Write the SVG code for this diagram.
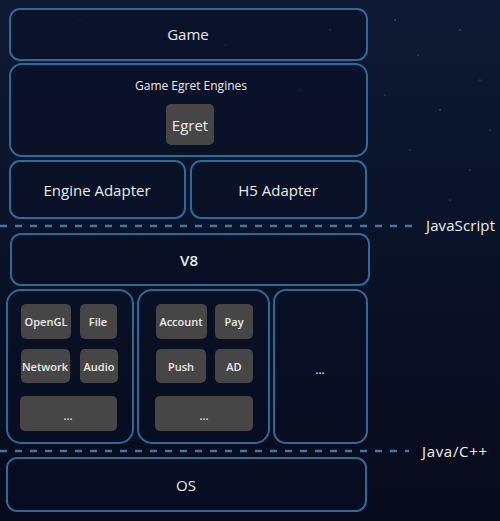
<svg xmlns="http://www.w3.org/2000/svg" width="500" height="521" viewBox="0 0 500 521">
<defs>
<linearGradient id="bg" x1="0" y1="0" x2="0" y2="1">
<stop offset="0" stop-color="#0e1a33"/>
<stop offset="0.5" stop-color="#0a1228"/>
<stop offset="1" stop-color="#070a1a"/>
</linearGradient>
<style>
.box{fill:#0a0f24;fill-opacity:0.55;stroke:#2d6a99;stroke-width:2}
.tile{fill:#464646;stroke:none}
.t{font-family:"Open Sans","Noto Sans","DejaVu Sans",sans-serif;fill:#ececec;text-anchor:middle}
.big{font-size:15px;font-weight:500}
.mid{font-size:12px}
.sm{font-size:11px;font-weight:600}
.lbl{font-family:"Open Sans","Noto Sans","DejaVu Sans",sans-serif;fill:#f0f0f0;font-size:15px}
.dash{stroke:#3a79a8;stroke-width:2.5;stroke-dasharray:7 8;fill:none}
.star{fill:#8fa6c4}
</style>
</defs>
<rect width="500" height="521" fill="url(#bg)"/>
<g id="stars" opacity="0.5">
<circle class="star" cx="395" cy="20" r="0.8"/><circle class="star" cx="418" cy="55" r="0.7"/>
<circle class="star" cx="460" cy="30" r="0.8"/><circle class="star" cx="480" cy="80" r="0.6"/>
<circle class="star" cx="440" cy="110" r="0.7"/><circle class="star" cx="410" cy="150" r="0.6"/>
<circle class="star" cx="470" cy="170" r="0.7"/><circle class="star" cx="385" cy="95" r="0.6"/>
<circle class="star" cx="330" cy="30" r="0.7"/><circle class="star" cx="80" cy="20" r="0.6"/>
<circle class="star" cx="225" cy="45" r="0.6"/><circle class="star" cx="300" cy="90" r="0.6"/>
<circle class="star" cx="450" cy="200" r="0.6"/><circle class="star" cx="490" cy="130" r="0.6"/>
</g>
<g id="connectors">
<line class="dash" x1="0" y1="226" x2="414" y2="226"/>
<line class="dash" x1="0" y1="451" x2="409" y2="451"/>
</g>
<g id="javascript"><text class="lbl" x="426" y="231" textLength="69">JavaScript</text></g>
<g id="javacpp"><text class="lbl" x="422" y="457" textLength="65">Java/C++</text></g>
<g id="game">
<rect class="box" x="10" y="9" width="357" height="51" rx="10"/>
<text class="t big" x="188" y="40">Game</text>
</g>
<g id="engines">
<rect class="box" x="10" y="64" width="357" height="92" rx="12"/>
<text class="t mid" x="191" y="90">Game Egret Engines</text>
</g>
<g id="egret">
<rect class="tile" x="166" y="104" width="48" height="41" rx="5"/>
<text class="t big" x="190" y="131" style="font-weight:400">Egret</text>
</g>
<g id="engine-adapter">
<rect class="box" x="10" y="161" width="175" height="57" rx="10"/>
<text class="t big" x="97" y="196">Engine Adapter</text>
</g>
<g id="h5-adapter">
<rect class="box" x="191" y="161" width="175" height="57" rx="10"/>
<text class="t big" x="278" y="196">H5 Adapter</text>
</g>
<g id="v8">
<rect class="box" x="11" y="234" width="358" height="51" rx="10"/>
<text class="t big" x="189" y="266" style="font-weight:600">V8</text>
</g>
<g id="group-left">
<rect class="box" x="7" y="290" width="126" height="153" rx="14"/>
</g>
<g id="opengl"><rect class="tile" x="21" y="304" width="50" height="35" rx="5"/><text class="t sm" x="46" y="326">OpenGL</text></g>
<g id="file"><rect class="tile" x="80" y="304" width="37" height="35" rx="5"/><text class="t sm" x="98" y="326">File</text></g>
<g id="network"><rect class="tile" x="21" y="349" width="49" height="34" rx="5"/><text class="t sm" x="45" y="371">Network</text></g>
<g id="audio"><rect class="tile" x="80" y="349" width="38" height="34" rx="5"/><text class="t sm" x="99" y="371">Audio</text></g>
<g id="more-left"><rect class="tile" x="20" y="396" width="97" height="35" rx="5"/><text class="t sm" x="68" y="420">...</text></g>
<g id="group-mid">
<rect class="box" x="138" y="290" width="131" height="153" rx="14"/>
</g>
<g id="account"><rect class="tile" x="156" y="304" width="51" height="35" rx="5"/><text class="t sm" x="181" y="326">Account</text></g>
<g id="pay"><rect class="tile" x="215" y="304" width="38" height="35" rx="5"/><text class="t sm" x="234" y="326">Pay</text></g>
<g id="push"><rect class="tile" x="156" y="349" width="50" height="34" rx="5"/><text class="t sm" x="181" y="371">Push</text></g>
<g id="ad"><rect class="tile" x="215" y="349" width="38" height="34" rx="5"/><text class="t sm" x="234" y="371">AD</text></g>
<g id="more-mid"><rect class="tile" x="155" y="396" width="98" height="35" rx="5"/><text class="t sm" x="204" y="420">...</text></g>
<g id="group-right">
<rect class="box" x="274" y="290" width="93" height="153" rx="12"/>
<text class="t sm" x="320" y="374">...</text>
</g>
<g id="os">
<rect class="box" x="7" y="458" width="359" height="53" rx="10"/>
<text class="t big" x="186" y="491" style="font-weight:400">OS</text>
</g>
</svg>
